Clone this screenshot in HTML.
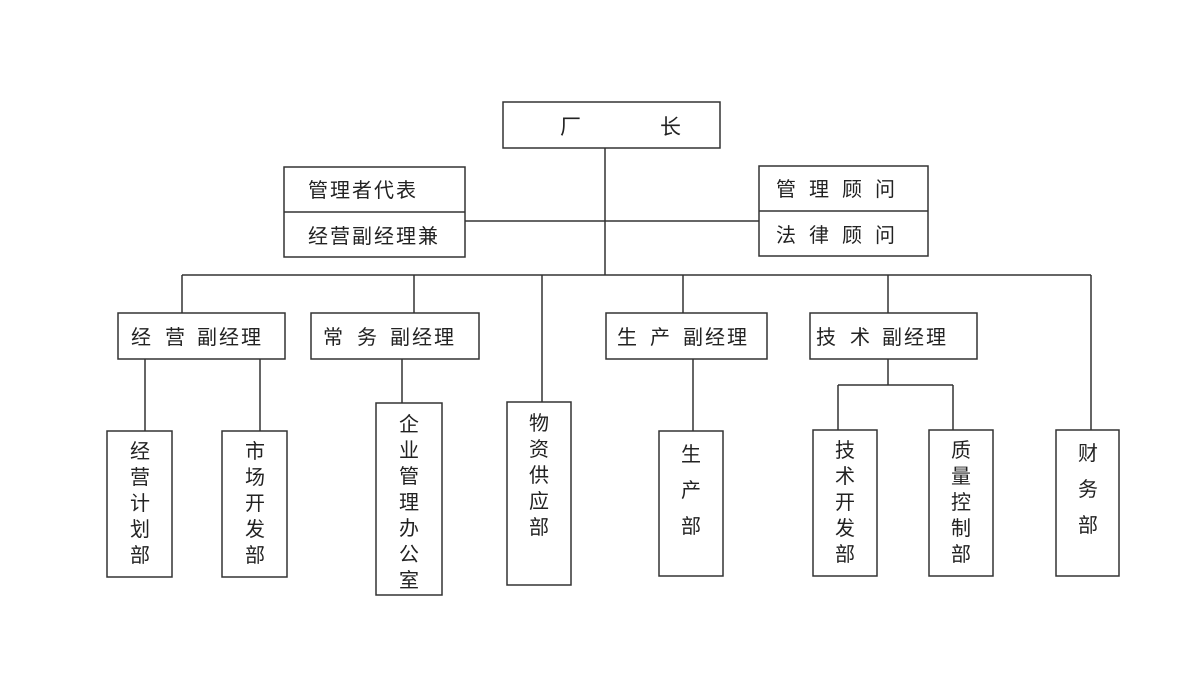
<!DOCTYPE html>
<html><head><meta charset="utf-8"><style>
html,body{margin:0;padding:0;background:#fff;}
svg{display:block;}
text{font-family:"Liberation Sans","Noto Sans CJK SC",sans-serif;fill:#222;}
</style></head><body>
<svg width="1200" height="700" viewBox="0 0 1200 700" xmlns="http://www.w3.org/2000/svg">
<g stroke="#333" stroke-width="1.5" fill="none">
<rect x="503" y="102" width="217" height="46"/>
<rect x="284" y="167" width="181" height="90"/><line x1="284" y1="212" x2="465" y2="212"/>
<rect x="759" y="166" width="169" height="90"/><line x1="759" y1="211" x2="928" y2="211"/>
<line x1="605" y1="148" x2="605" y2="275"/>
<line x1="465" y1="221" x2="759" y2="221"/>
<line x1="182" y1="275" x2="1091" y2="275"/>
<line x1="182" y1="275" x2="182" y2="313"/>
<line x1="414" y1="275" x2="414" y2="313"/>
<line x1="542" y1="275" x2="542" y2="402"/>
<line x1="683" y1="275" x2="683" y2="313"/>
<line x1="888" y1="275" x2="888" y2="313"/>
<line x1="1091" y1="275" x2="1091" y2="430"/>
<rect x="118" y="313" width="167" height="46"/>
<rect x="311" y="313" width="168" height="46"/>
<rect x="606" y="313" width="161" height="46"/>
<rect x="810" y="313" width="167" height="46"/>
<line x1="145" y1="359" x2="145" y2="431"/>
<line x1="260" y1="359" x2="260" y2="431"/>
<line x1="402" y1="359" x2="402" y2="403"/>
<line x1="693" y1="359" x2="693" y2="431"/>
<line x1="888" y1="359" x2="888" y2="385"/>
<line x1="838" y1="385" x2="953" y2="385"/>
<line x1="838" y1="385" x2="838" y2="430"/>
<line x1="953" y1="385" x2="953" y2="430"/>
<rect x="107" y="431" width="65" height="146"/>
<rect x="222" y="431" width="65" height="146"/>
<rect x="376" y="403" width="66" height="192"/>
<rect x="507" y="402" width="64" height="183"/>
<rect x="659" y="431" width="64" height="145"/>
<rect x="813" y="430" width="64" height="146"/>
<rect x="929" y="430" width="64" height="146"/>
<rect x="1056" y="430" width="63" height="146"/>
</g>
<g font-size="21">
<text x="560" y="134">厂</text><text x="660" y="134">长</text>
</g>
<g font-size="20">
<text x="308" y="197" letter-spacing="2">管理者代表</text>
<text x="308" y="243" letter-spacing="2">经营副经理兼</text>
<text x="776" y="196" letter-spacing="13">管理顾问</text>
<text x="776" y="242" letter-spacing="13">法律顾问</text>
<text x="131" y="344">经</text><text x="165" y="344">营</text><text x="197" y="344" letter-spacing="2">副经理</text>
<text x="323" y="344">常</text><text x="357" y="344">务</text><text x="390" y="344" letter-spacing="2">副经理</text>
<text x="617" y="344">生</text><text x="650" y="344">产</text><text x="683" y="344" letter-spacing="2">副经理</text>
<text x="816" y="344">技</text><text x="850" y="344">术</text><text x="882" y="344" letter-spacing="2">副经理</text>
</g>
<g font-size="20" text-anchor="middle">
<text x="140" y="458"><tspan x="140">经</tspan><tspan x="140" dy="26">营</tspan><tspan x="140" dy="26">计</tspan><tspan x="140" dy="26">划</tspan><tspan x="140" dy="26">部</tspan></text>
<text x="255" y="458"><tspan x="255">市</tspan><tspan x="255" dy="26">场</tspan><tspan x="255" dy="26">开</tspan><tspan x="255" dy="26">发</tspan><tspan x="255" dy="26">部</tspan></text>
<text x="409" y="431"><tspan x="409">企</tspan><tspan x="409" dy="26">业</tspan><tspan x="409" dy="26">管</tspan><tspan x="409" dy="26">理</tspan><tspan x="409" dy="26">办</tspan><tspan x="409" dy="26">公</tspan><tspan x="409" dy="26">室</tspan></text>
<text x="539" y="430"><tspan x="539">物</tspan><tspan x="539" dy="26">资</tspan><tspan x="539" dy="26">供</tspan><tspan x="539" dy="26">应</tspan><tspan x="539" dy="26">部</tspan></text>
<text x="691" y="461"><tspan x="691">生</tspan><tspan x="691" dy="36">产</tspan><tspan x="691" dy="36">部</tspan></text>
<text x="845" y="457"><tspan x="845">技</tspan><tspan x="845" dy="26">术</tspan><tspan x="845" dy="26">开</tspan><tspan x="845" dy="26">发</tspan><tspan x="845" dy="26">部</tspan></text>
<text x="961" y="457"><tspan x="961">质</tspan><tspan x="961" dy="26">量</tspan><tspan x="961" dy="26">控</tspan><tspan x="961" dy="26">制</tspan><tspan x="961" dy="26">部</tspan></text>
<text x="1088" y="460"><tspan x="1088">财</tspan><tspan x="1088" dy="36">务</tspan><tspan x="1088" dy="36">部</tspan></text>
</g>
</svg>
</body></html>
